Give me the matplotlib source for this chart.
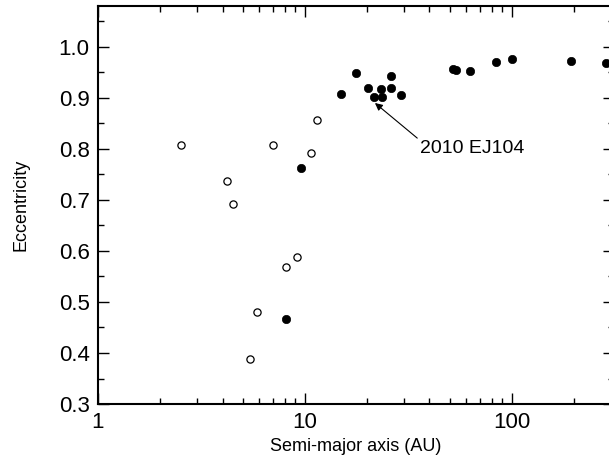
import numpy as np
import matplotlib
matplotlib.use('Agg')
import matplotlib.pyplot as plt
from matplotlib.ticker import MultipleLocator, LogLocator, NullFormatter, FixedLocator

plt.rcParams['font.family'] = ['Liberation Sans', 'DejaVu Sans']

# open circles
a_open = [2.52, 4.2, 4.47, 5.42, 5.84, 7.03, 8.09, 9.12, 10.7, 11.47]
e_open = [0.807, 0.737, 0.692, 0.389, 0.480, 0.807, 0.568, 0.589, 0.792, 0.857]

# filled circles
a_fill = [8.09, 9.6, 15.0, 17.6, 20.2, 21.6, 23.3, 23.6, 26.2, 26.0, 29.2,
          51.7, 53.6, 63.1, 84.3, 100.3, 193, 284]
e_fill = [0.467, 0.762, 0.907, 0.948, 0.920, 0.901, 0.918, 0.901, 0.943, 0.919, 0.906,
          0.957, 0.954, 0.952, 0.970, 0.977, 0.973, 0.968]

label_name = '2010 EJ104'
label_target = (21.8, 0.890)
label_text_pos = (36.0, 0.800)

fig = plt.figure(figsize=(6.09, 4.59), dpi=100)
# right spine sits just past the image edge, like the cropped original
ax = fig.add_axes([0.1609, 0.1198, 0.847, 0.867])

ax.plot(a_open, e_open, 'o', ms=5.2, mfc='white', mec='black', mew=0.9, ls='none')
ax.plot(a_fill, e_fill, 'o', ms=6.0, mfc='black', mec='black', mew=0.5, ls='none')

ax.annotate(label_name, xy=label_target, xytext=label_text_pos,
            ha='left', va='center', fontsize=14,
            arrowprops=dict(arrowstyle='-|>', color='black', lw=0.8,
                            mutation_scale=11, shrinkA=0, shrinkB=0,
                            relpos=(0.0, 1.0)))

ax.set_xscale('log')
ax.set_xlim(1, 311)
ax.set_ylim(0.3, 1.08)

ax.xaxis.set_major_locator(FixedLocator([1, 10, 100]))
ax.xaxis.set_minor_locator(LogLocator(base=10, subs=np.arange(2, 10)))
ax.xaxis.set_minor_formatter(NullFormatter())
ax.set_xticklabels(['1', '10', '100'])
ax.yaxis.set_major_locator(MultipleLocator(0.1))
ax.yaxis.set_minor_locator(MultipleLocator(0.05))
ax.yaxis.set_major_formatter(plt.FormatStrFormatter('%.1f'))

ax.tick_params(which='both', direction='in', top=True, right=True, width=1.0)
ax.tick_params(which='major', length=8, labelsize=16, pad=6)
ax.tick_params(which='minor', length=4)
for s in ax.spines.values():
    s.set_linewidth(1.5)

ax.set_xlabel('Semi-major axis (AU)', fontsize=13, labelpad=3)
ax.set_ylabel('Eccentricity', fontsize=13, labelpad=21)

plt.savefig('out.png', dpi=100)
plt.close(fig)
